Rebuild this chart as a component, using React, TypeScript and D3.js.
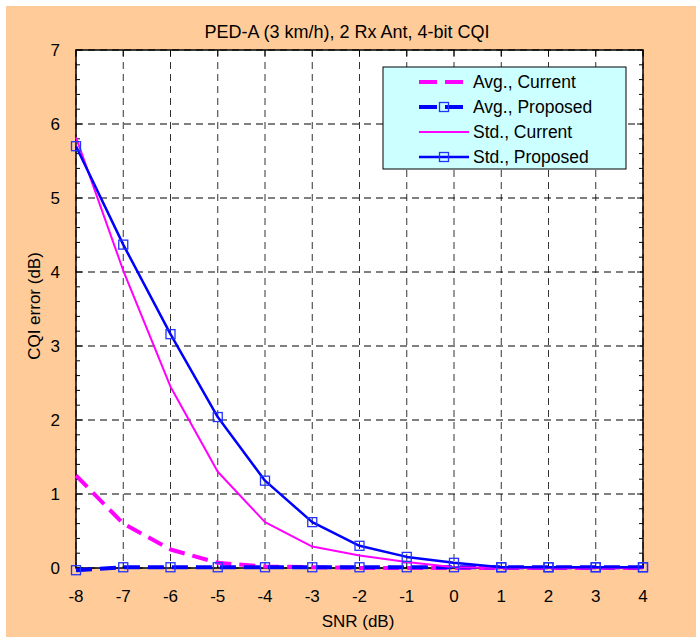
import React, { useEffect, useRef } from "react";
import * as d3 from "d3";

const snr = [-8, -7, -6, -5, -4, -3, -2, -1, 0, 1, 2, 3, 4];
const avgCurrent = [1.25, 0.6, 0.25, 0.07, 0.02, 0.01, 0.0, 0.0, 0.0, 0.0, 0.0, 0.0, 0.0];
const avgProposed = [-0.03, 0.01, 0.01, 0.01, 0.01, 0.01, 0.01, 0.01, 0.01, 0.01, 0.01, 0.01, 0.01];
const stdCurrent = [5.82, 4.02, 2.45, 1.3, 0.62, 0.29, 0.17, 0.08, 0.01, 0.0, 0.0, 0.0, 0.0];
const stdProposed = [5.7, 4.37, 3.16, 2.04, 1.18, 0.62, 0.3, 0.15, 0.07, 0.01, 0.01, 0.01, 0.01];
const xTicks = [-8, -7, -6, -5, -4, -3, -2, -1, 0, 1, 2, 3, 4];
const yTicks = [0, 1, 2, 3, 4, 5, 6, 7];
const title = "PED-A (3 km/h), 2 Rx Ant, 4-bit CQI";
const xLabel = "SNR (dB)";
const yLabel = "CQI error (dB)";
const legendLabels = ["Avg., Current", "Avg., Proposed", "Std., Current", "Std., Proposed"];

const W = 696;
const H = 637;
const FONT = "'Liberation Sans', Arial, sans-serif";

export default function App() {
  const ref = useRef<SVGSVGElement>(null);
  useEffect(() => {
    document.body.style.margin = "0";
    const svg = d3.select(ref.current);
    svg.selectAll("*").remove();
    const m = { left: 76, right: 643, top: 50, bottom: 568 };
    const x = d3.scaleLinear().domain([-8, 4]).range([m.left, m.right]);
    const y = d3.scaleLinear().domain([0, 7]).range([m.bottom, m.top]);

    svg.append("rect").attr("x", 6).attr("y", 6).attr("width", W - 6).attr("height", H - 6).attr("fill", "#FFCC99");
    svg.append("rect").attr("x", m.left).attr("y", m.top).attr("width", m.right - m.left).attr("height", m.bottom - m.top).attr("fill", "#fff");

    const clipId = "plotclip";
    svg.append("clipPath").attr("id", clipId).append("rect")
      .attr("x", m.left - 8).attr("y", m.top - 8).attr("width", m.right - m.left + 16).attr("height", m.bottom - m.top + 16);

    // grid
    const g = svg.append("g");
    xTicks.forEach((t) => {
      g.append("line").attr("x1", x(t)).attr("x2", x(t)).attr("y1", m.top).attr("y2", m.bottom)
        .attr("stroke", "#333").attr("stroke-width", 1).attr("stroke-dasharray", "7,5");
    });
    yTicks.forEach((t) => {
      g.append("line").attr("x1", m.left).attr("x2", m.right).attr("y1", y(t)).attr("y2", y(t))
        .attr("stroke", "#000").attr("stroke-width", 1).attr("stroke-dasharray", "7,5");
    });

    // ticks
    const minor = d3.range(0, 7.001, 0.2);
    minor.forEach((v) => {
      const isMajor = Math.abs(v - Math.round(v)) < 1e-6;
      const len = isMajor ? 6 : 4;
      g.append("line").attr("x1", m.left).attr("x2", m.left + len).attr("y1", y(v)).attr("y2", y(v)).attr("stroke", "#000");
      g.append("line").attr("x1", m.right).attr("x2", m.right - len).attr("y1", y(v)).attr("y2", y(v)).attr("stroke", "#000");
    });
    xTicks.forEach((t) => {
      g.append("line").attr("x1", x(t)).attr("x2", x(t)).attr("y1", m.bottom).attr("y2", m.bottom - 6).attr("stroke", "#000");
      g.append("line").attr("x1", x(t)).attr("x2", x(t)).attr("y1", m.top).attr("y2", m.top + 6).attr("stroke", "#000");
    });

    svg.append("rect").attr("x", m.left).attr("y", m.top).attr("width", m.right - m.left).attr("height", m.bottom - m.top)
      .attr("fill", "none").attr("stroke", "#000").attr("stroke-width", 1.5);

    // tick labels
    xTicks.forEach((t) => {
      svg.append("text").attr("x", x(t)).attr("y", m.bottom + 34).attr("text-anchor", "middle")
        .attr("font-family", FONT).attr("font-size", 17).attr("fill", "#000").text(String(t));
    });
    yTicks.forEach((t) => {
      svg.append("text").attr("x", m.left - 16).attr("y", y(t) + 6).attr("text-anchor", "end")
        .attr("font-family", FONT).attr("font-size", 17).attr("fill", "#000").text(String(t));
    });

    svg.append("text").attr("x", 347).attr("y", 38).attr("text-anchor", "middle")
      .attr("font-family", FONT).attr("font-size", 18).attr("fill", "#000").text(title);
    svg.append("text").attr("x", 358).attr("y", 627).attr("text-anchor", "middle")
      .attr("font-family", FONT).attr("font-size", 17).attr("fill", "#000").text(xLabel);
    svg.append("text").attr("transform", `translate(40,${(m.top + m.bottom) / 2 - 3}) rotate(-90)`).attr("text-anchor", "middle")
      .attr("font-family", FONT).attr("font-size", 17).attr("fill", "#000").text(yLabel);

    const line = d3.line<[number, number]>().x((d) => x(d[0])).y((d) => y(d[1]));
    const zip = (vals: number[]) => snr.map((s, i) => [s, vals[i]] as [number, number]);
    const plot = svg.append("g").attr("clip-path", `url(#${clipId})`);

    const series = [
      { vals: avgCurrent, color: "#FF00FF", width: 4, dash: "16,8", markers: false },
      { vals: avgProposed, color: "#0000FF", width: 4, dash: "16,8", markers: true },
      { vals: stdCurrent, color: "#FF00FF", width: 2, dash: null, markers: false },
      { vals: stdProposed, color: "#0000FF", width: 2.5, dash: null, markers: true },
    ];
    const ms = 9;
    series.forEach((s) => {
      const p = plot.append("path").attr("d", line(zip(s.vals))).attr("fill", "none")
        .attr("stroke", s.color).attr("stroke-width", s.width).attr("stroke-linejoin", "round");
      if (s.dash) p.attr("stroke-dasharray", s.dash);
      if (s.markers) {
        zip(s.vals).forEach((d) => {
          plot.append("rect").attr("x", x(d[0]) - ms / 2).attr("y", y(d[1]) - ms / 2).attr("width", ms).attr("height", ms)
            .attr("fill", "none").attr("stroke", "#2233FF").attr("stroke-width", 1.3);
        });
      }
    });

    // legend
    const lg = svg.append("g");
    lg.append("rect").attr("x", 383).attr("y", 67).attr("width", 243).attr("height", 102)
      .attr("fill", "#CCFFFF").attr("stroke", "#000").attr("stroke-width", 1);
    series.forEach((s, i) => {
      const ly = 82 + i * 25;
      const l = lg.append("line").attr("x1", 419).attr("x2", i === 0 ? 465 : 469).attr("y1", ly).attr("y2", ly)
        .attr("stroke", s.color).attr("stroke-width", s.width);
      if (s.dash) l.attr("stroke-dasharray", "18,8");
      if (s.markers) {
        lg.append("rect").attr("x", 444 - ms / 2).attr("y", ly - ms / 2).attr("width", ms).attr("height", ms)
          .attr("fill", "none").attr("stroke", "#2233FF").attr("stroke-width", 1.3);
      }
      lg.append("text").attr("x", 473).attr("y", ly + 6).attr("font-family", FONT).attr("font-size", 17.5)
        .attr("fill", "#000").text(legendLabels[i]);
    });
  }, []);
  return <svg ref={ref} width={W} height={H} style={{ position: "absolute", left: 0, top: 0, display: "block" }} />;
}
